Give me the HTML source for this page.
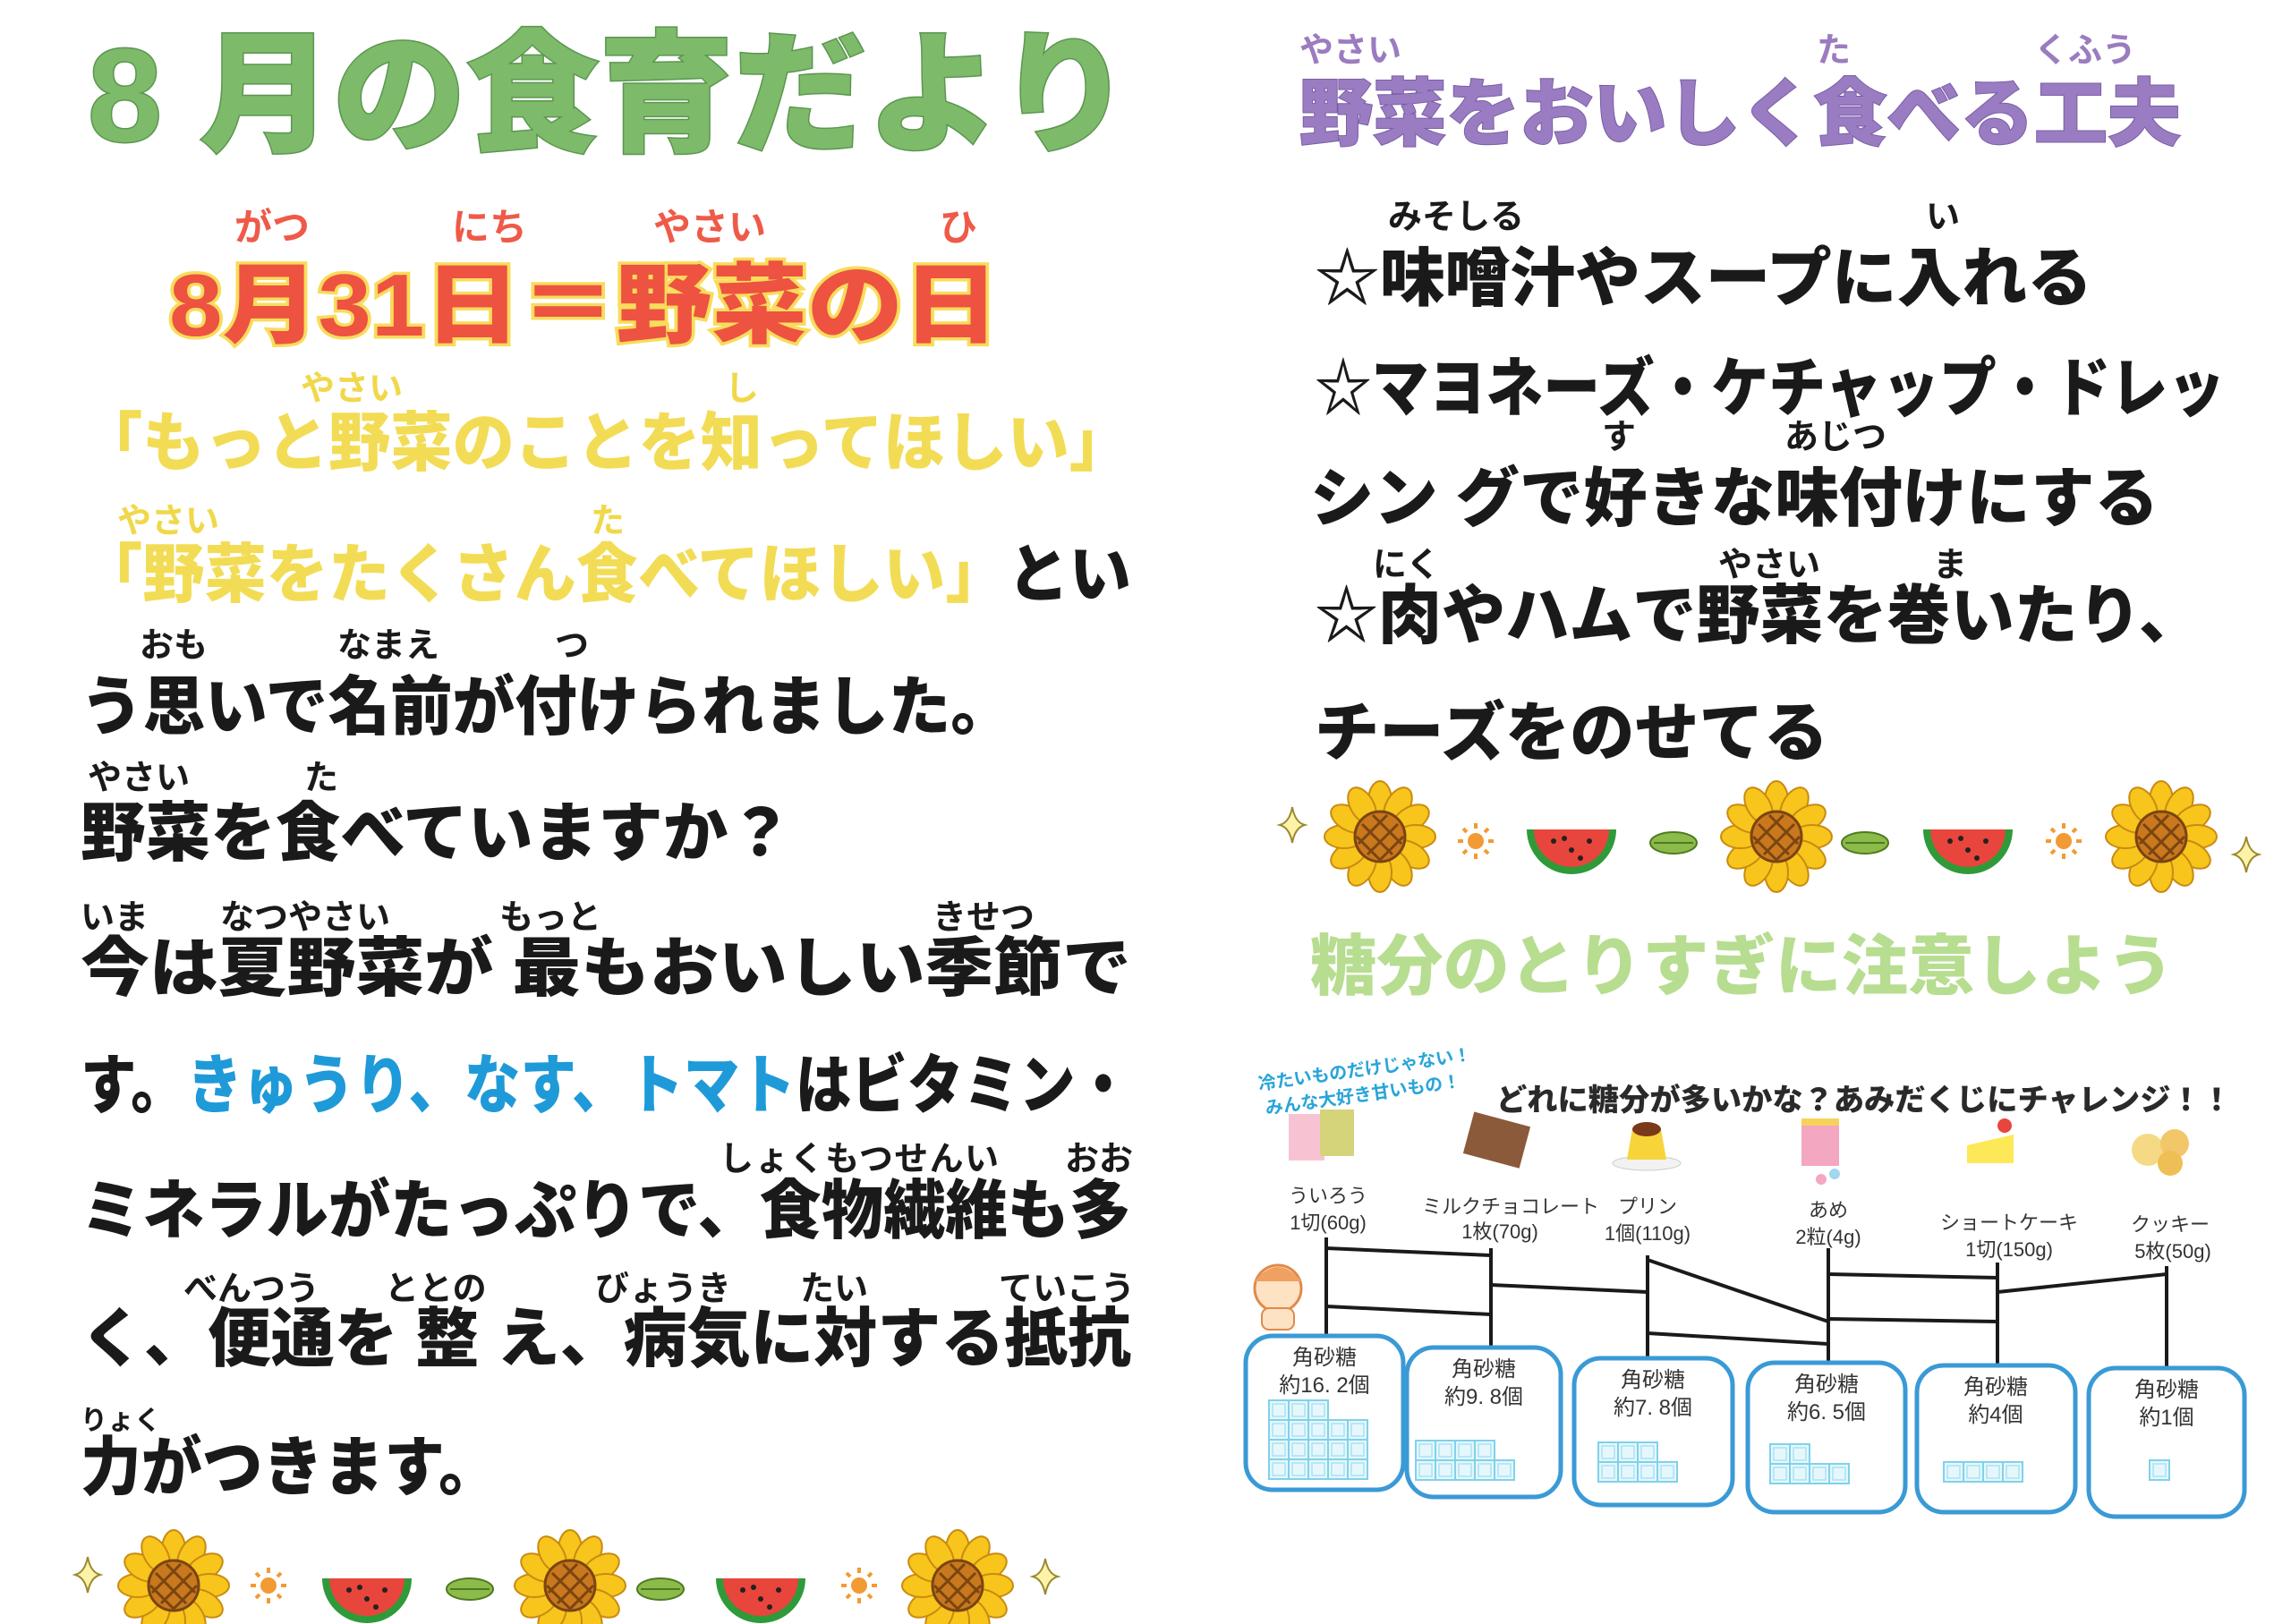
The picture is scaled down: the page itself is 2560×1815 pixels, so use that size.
<!DOCTYPE html>
<html><head><meta charset="utf-8"><style>
html,body{margin:0;padding:0;background:#fff;}
svg{display:block;}
text{font-family:"Liberation Sans","Noto Sans CJK JP",sans-serif;}
.b{font-weight:900;fill:#1a1a1a;}
.r{font-weight:700;font-size:38px;fill:#1a1a1a;}
</style></head><body>
<svg width="2560" height="1815" viewBox="0 0 2560 1815" xmlns="http://www.w3.org/2000/svg">
<defs>
<g id="sun">
<g fill="#f7c51c" stroke="#c98a10" stroke-width="2">
<ellipse cx="0" cy="-40" rx="13" ry="22"/><ellipse cx="0" cy="-40" rx="13" ry="22" transform="rotate(30)"/><ellipse cx="0" cy="-40" rx="13" ry="22" transform="rotate(60)"/><ellipse cx="0" cy="-40" rx="13" ry="22" transform="rotate(90)"/><ellipse cx="0" cy="-40" rx="13" ry="22" transform="rotate(120)"/><ellipse cx="0" cy="-40" rx="13" ry="22" transform="rotate(150)"/><ellipse cx="0" cy="-40" rx="13" ry="22" transform="rotate(180)"/><ellipse cx="0" cy="-40" rx="13" ry="22" transform="rotate(210)"/><ellipse cx="0" cy="-40" rx="13" ry="22" transform="rotate(240)"/><ellipse cx="0" cy="-40" rx="13" ry="22" transform="rotate(270)"/><ellipse cx="0" cy="-40" rx="13" ry="22" transform="rotate(300)"/><ellipse cx="0" cy="-40" rx="13" ry="22" transform="rotate(330)"/>
</g>
<circle r="28" fill="#c9781e" stroke="#7a4510" stroke-width="3"/>
<path d="M-20-14L14 20M-26 0L0 26M-8-24L24 8M20-14L-14 20M26 0L0 26M8-24L-24 8" stroke="#7a4510" stroke-width="3" fill="none"/>
</g>
<g id="melon">
<path d="M-50-8A50 50 0 0 0 50-8Z" fill="#2f9a3a"/>
<path d="M-42-8A42 42 0 0 0 42-8Z" fill="#e8453c"/>
<g fill="#222"><circle cx="-20" cy="5" r="3"/><circle cx="0" cy="15" r="3"/><circle cx="20" cy="5" r="3"/><circle cx="-8" cy="2" r="3"/><circle cx="10" cy="24" r="3"/></g>
</g>
<g id="flw"><circle r="9" fill="#f29a33"/><g stroke="#f29a33" stroke-width="4"><path d="M0-14V-20M0 14V20M-14 0H-20M14 0H20M-10-10L-14-14M10 10L14 14M10-10L14-14M-10 10L-14 14"/></g></g>
<g id="leaf"><ellipse rx="26" ry="12" fill="#8dbb4a" stroke="#4e7a22" stroke-width="2"/><path d="M-22 0H22" stroke="#4e7a22" stroke-width="2"/></g>
<g id="spk"><path d="M0-20Q3-3 14 0Q3 3 0 20Q-3 3-14 0Q-3-3 0-20Z" fill="#fdf3a8" stroke="#9a8a30" stroke-width="2"/></g>
<g id="cube"><rect width="22" height="22" fill="#e6f7fc" stroke="#7fd2ea" stroke-width="2"/><rect x="4" y="4" width="14" height="14" fill="none" stroke="#a9e3f2" stroke-width="1.5"/></g>
</defs>

<!-- LEFT -->
<text x="98" y="107" dominant-baseline="central" font-size="148" font-weight="900" fill="#7dbb6a" stroke="#5b9650" stroke-width="3" paint-order="stroke" textLength="1166" lengthAdjust="spacingAndGlyphs">8 月の食育だより</text>

<g font-size="42" font-weight="700" fill="#ef5a48">
<text x="262" y="254" dominant-baseline="central">がつ</text>
<text x="505" y="254" dominant-baseline="central">にち</text>
<text x="730" y="254" dominant-baseline="central">やさい</text>
<text x="1050" y="254" dominant-baseline="central">ひ</text>
</g>
<text x="189" y="341" dominant-baseline="central" font-size="98" font-weight="900" fill="#ee5240" stroke="#f8dc5c" stroke-width="7" paint-order="stroke" textLength="927" lengthAdjust="spacingAndGlyphs">8月31日＝野菜の日</text>

<g class="r" fill="#f0d84a" style="fill:#f0d84a">
<text x="336" y="435" dominant-baseline="central">やさい</text>
<text x="810" y="435" dominant-baseline="central">し</text>
<text x="131" y="583" dominant-baseline="central">やさい</text>
<text x="660" y="583" dominant-baseline="central">た</text>
</g>
<text x="90" y="496" dominant-baseline="central" font-size="72" font-weight="900" fill="#f3dc55" textLength="1174" lengthAdjust="spacingAndGlyphs">「もっと野菜のことを知ってほしい」</text>
<text x="90" y="643" dominant-baseline="central" font-size="72" font-weight="900" textLength="1174" lengthAdjust="spacingAndGlyphs"><tspan fill="#f3dc55">「野菜をたくさん食べてほしい」</tspan><tspan fill="#1a1a1a">とい</tspan></text>

<g class="r">
<text x="156" y="722" dominant-baseline="central">おも</text>
<text x="377" y="722" dominant-baseline="central">なまえ</text>
<text x="620" y="722" dominant-baseline="central">つ</text>
<text x="98" y="870" dominant-baseline="central">やさい</text>
<text x="340" y="870" dominant-baseline="central">た</text>
<text x="90" y="1026" dominant-baseline="central">いま</text>
<text x="246" y="1026" dominant-baseline="central">なつやさい</text>
<text x="558" y="1026" dominant-baseline="central">もっと</text>
<text x="1042" y="1026" dominant-baseline="central">きせつ</text>
<text x="804" y="1296" dominant-baseline="central" textLength="312">しょくもつせんい</text>
<text x="1190" y="1296" dominant-baseline="central">おお</text>
<text x="205" y="1441" dominant-baseline="central">べんつう</text>
<text x="430" y="1441" dominant-baseline="central">ととの</text>
<text x="665" y="1441" dominant-baseline="central">びょうき</text>
<text x="894" y="1441" dominant-baseline="central">たい</text>
<text x="1116" y="1441" dominant-baseline="central">ていこう</text>
<text x="90" y="1588" dominant-baseline="central" font-size="30">りょく</text>
</g>
<g class="b" font-size="72">
<text x="90" y="791" dominant-baseline="central" textLength="1042" lengthAdjust="spacingAndGlyphs">う思いで名前が付けられました。</text>
<text x="90" y="932" dominant-baseline="central" textLength="796" lengthAdjust="spacingAndGlyphs">野菜を食べていますか？</text>
<text x="90" y="1083" dominant-baseline="central" textLength="1174" lengthAdjust="spacingAndGlyphs">今は夏野菜が 最もおいしい季節で</text>
<text x="90" y="1214" dominant-baseline="central" textLength="1174" lengthAdjust="spacingAndGlyphs">す。<tspan fill="#1f9ad8">きゅうり、なす、トマト</tspan>はビタミン・</text>
<text x="90" y="1354" dominant-baseline="central" textLength="1174" lengthAdjust="spacingAndGlyphs">ミネラルがたっぷりで、食物繊維も多</text>
<text x="90" y="1497" dominant-baseline="central" textLength="1174" lengthAdjust="spacingAndGlyphs">く、便通を 整 え、病気に対する抵抗</text>
<text x="90" y="1641" dominant-baseline="central" textLength="468" lengthAdjust="spacingAndGlyphs">力がつきます。</text>
</g>

<!-- left decorations -->
<use href="#spk" x="98" y="1760"/>
<use href="#sun" x="194" y="1772"/>
<use href="#flw" x="300" y="1772"/>
<use href="#melon" x="410" y="1772"/>
<use href="#leaf" x="525" y="1776"/>
<use href="#sun" x="637" y="1772"/>
<use href="#leaf" x="738" y="1776"/>
<use href="#melon" x="850" y="1772"/>
<use href="#flw" x="960" y="1772"/>
<use href="#sun" x="1070" y="1772"/>
<use href="#spk" x="1168" y="1762"/>

<!-- RIGHT -->
<g font-size="38" font-weight="700" fill="#9b7cc0">
<text x="1452" y="57" dominant-baseline="central">やさい</text>
<text x="2030" y="57" dominant-baseline="central">た</text>
<text x="2273" y="57" dominant-baseline="central">くふう</text>
</g>
<text x="1452" y="128" dominant-baseline="central" font-size="82" font-weight="900" fill="#9a7cc2" stroke="#7a5ea6" stroke-width="2" paint-order="stroke" textLength="985" lengthAdjust="spacingAndGlyphs">野菜をおいしく食べる工夫</text>

<g class="r">
<text x="1551" y="243" dominant-baseline="central">みそしる</text>
<text x="2152" y="243" dominant-baseline="central">い</text>
<text x="1790" y="489" dominant-baseline="central">す</text>
<text x="1994" y="489" dominant-baseline="central">あじつ</text>
<text x="1534" y="632" dominant-baseline="central">にく</text>
<text x="1920" y="632" dominant-baseline="central">やさい</text>
<text x="2160" y="632" dominant-baseline="central">ま</text>
</g>
<g class="b" font-size="72">
<text x="1469" y="312" dominant-baseline="central" textLength="869" lengthAdjust="spacingAndGlyphs">☆味噌汁やスープに入れる</text>
<text x="1469" y="435" dominant-baseline="central" textLength="1017" lengthAdjust="spacingAndGlyphs">☆マヨネーズ・ケチャップ・ドレッ</text>
<text x="1464" y="558" dominant-baseline="central" textLength="948" lengthAdjust="spacingAndGlyphs">シン グで好きな味付けにする</text>
<text x="1469" y="689" dominant-baseline="central" textLength="992" lengthAdjust="spacingAndGlyphs">☆肉やハムで野菜を巻いたり、</text>
<text x="1469" y="820" dominant-baseline="central" textLength="574" lengthAdjust="spacingAndGlyphs">チーズをのせてる</text>
</g>

<!-- right decorations -->
<use href="#spk" x="1444" y="922"/>
<use href="#sun" x="1542" y="935"/>
<use href="#flw" x="1649" y="940"/>
<use href="#melon" x="1756" y="935"/>
<use href="#leaf" x="1870" y="942"/>
<use href="#sun" x="1985" y="935"/>
<use href="#leaf" x="2084" y="942"/>
<use href="#melon" x="2199" y="935"/>
<use href="#flw" x="2306" y="940"/>
<use href="#sun" x="2415" y="935"/>
<use href="#spk" x="2510" y="955"/>

<text x="1464" y="1080" dominant-baseline="central" font-size="74" font-weight="900" fill="#b7dd90" textLength="965" lengthAdjust="spacingAndGlyphs">糖分のとりすぎに注意しよう</text>

<!-- amidakuji -->
<g font-size="20" font-weight="700" fill="#2aa5d8" transform="rotate(-8 1410 1225)">
<text x="1408" y="1218">冷たいものだけじゃない！</text>
<text x="1412" y="1246">みんな大好き甘いもの！</text>
</g>
<text x="1672" y="1230" dominant-baseline="central" font-size="34" font-weight="900" fill="#2a2a2a" textLength="822" lengthAdjust="spacingAndGlyphs">どれに糖分が多いかな？あみだくじにチャレンジ！！</text>

<!-- icons -->
<rect x="1440" y="1245" width="40" height="52" fill="#f7c3d2"/><rect x="1475" y="1240" width="38" height="52" fill="#d6d47a"/>
<rect x="1640" y="1250" width="65" height="48" fill="#8b5a3a" transform="rotate(15 1672 1274)"/>
<ellipse cx="1840" cy="1300" rx="38" ry="8" fill="#f2f2f2" stroke="#ccc"/><path d="M1818 1296L1824 1262H1856L1862 1296Z" fill="#f7d43a"/><ellipse cx="1840" cy="1262" rx="16" ry="8" fill="#7a3a1a"/>
<rect x="2013" y="1255" width="42" height="48" fill="#f4a7c0"/><rect x="2013" y="1250" width="42" height="8" fill="#f7d25a"/><circle cx="2050" cy="1312" r="6" fill="#a0d8f0"/><circle cx="2035" cy="1318" r="6" fill="#f4a7c0"/>
<path d="M2198 1280L2250 1268V1300H2198Z" fill="#fde858"/><circle cx="2240" cy="1258" r="8" fill="#e8453c"/>
<circle cx="2400" cy="1285" r="18" fill="#f6d985"/><circle cx="2430" cy="1278" r="16" fill="#f1c76a"/><circle cx="2425" cy="1300" r="14" fill="#eebf55"/>

<g font-size="22" fill="#333" text-anchor="middle">
<text x="1484" y="1344">ういろう</text><text x="1484" y="1374">1切(60g)</text>
<text x="1688" y="1356">ミルクチョコレート</text><text x="1676" y="1384">1枚(70g)</text>
<text x="1841" y="1356">プリン</text><text x="1841" y="1386">1個(110g)</text>
<text x="2043" y="1360">あめ</text><text x="2043" y="1390">2粒(4g)</text>
<text x="2245" y="1374">ショートケーキ</text><text x="2245" y="1404">1切(150g)</text>
<text x="2425" y="1376">クッキー</text><text x="2428" y="1406">5枚(50g)</text>
</g>

<g stroke="#1a1a1a" stroke-width="4" fill="none">
<path d="M1482 1383V1497M1666 1395V1506M1841 1403V1518M2043 1395V1523M2232 1411V1526M2421 1415V1529"/>
<path d="M1482 1395L1666 1403M1482 1460L1666 1469M1666 1436L1841 1444M1841 1408L2043 1477M1841 1490L2043 1502M2043 1424L2232 1428M2043 1474L2232 1477M2232 1444L2421 1424"/>
</g>
<!-- girl -->
<circle cx="1428" cy="1440" r="26" fill="#fde2c4" stroke="#e08a4a" stroke-width="3"/>
<path d="M1402 1432Q1428 1400 1454 1432" fill="#f0a060"/>
<rect x="1410" y="1462" width="36" height="24" rx="8" fill="#fde2c4" stroke="#e08a4a" stroke-width="2"/>

<g fill="#fff" stroke="#3a9ad6" stroke-width="5">
<rect x="1392" y="1493" width="176" height="172" rx="30"/>
<rect x="1572" y="1506" width="172" height="167" rx="30"/>
<rect x="1759" y="1518" width="177" height="164" rx="30"/>
<rect x="1953" y="1523" width="176" height="167" rx="30"/>
<rect x="2142" y="1526" width="177" height="164" rx="30"/>
<rect x="2334" y="1529" width="174" height="166" rx="30"/>
</g>
<g font-size="24" fill="#333" text-anchor="middle">
<text x="1480" y="1525">角砂糖</text><text x="1480" y="1556">約16. 2個</text>
<text x="1658" y="1538">角砂糖</text><text x="1658" y="1569">約9. 8個</text>
<text x="1847" y="1550">角砂糖</text><text x="1847" y="1581">約7. 8個</text>
<text x="2041" y="1555">角砂糖</text><text x="2041" y="1586">約6. 5個</text>
<text x="2230" y="1558">角砂糖</text><text x="2230" y="1589">約4個</text>
<text x="2421" y="1561">角砂糖</text><text x="2421" y="1592">約1個</text>
</g>
<!-- cubes -->
<g>
<use href="#cube" x="1418" y="1565"/><use href="#cube" x="1440" y="1565"/><use href="#cube" x="1462" y="1565"/>
<use href="#cube" x="1418" y="1587"/><use href="#cube" x="1440" y="1587"/><use href="#cube" x="1462" y="1587"/><use href="#cube" x="1484" y="1587"/><use href="#cube" x="1506" y="1587"/>
<use href="#cube" x="1418" y="1609"/><use href="#cube" x="1440" y="1609"/><use href="#cube" x="1462" y="1609"/><use href="#cube" x="1484" y="1609"/><use href="#cube" x="1506" y="1609"/>
<use href="#cube" x="1418" y="1631"/><use href="#cube" x="1440" y="1631"/><use href="#cube" x="1462" y="1631"/><use href="#cube" x="1484" y="1631"/><use href="#cube" x="1506" y="1631"/>

<use href="#cube" x="1582" y="1610"/><use href="#cube" x="1604" y="1610"/><use href="#cube" x="1626" y="1610"/><use href="#cube" x="1648" y="1610"/>
<use href="#cube" x="1582" y="1632"/><use href="#cube" x="1604" y="1632"/><use href="#cube" x="1626" y="1632"/><use href="#cube" x="1648" y="1632"/><use href="#cube" x="1670" y="1632"/>

<use href="#cube" x="1786" y="1612"/><use href="#cube" x="1808" y="1612"/><use href="#cube" x="1830" y="1612"/>
<use href="#cube" x="1786" y="1634"/><use href="#cube" x="1808" y="1634"/><use href="#cube" x="1830" y="1634"/><use href="#cube" x="1852" y="1634"/>

<use href="#cube" x="1978" y="1614"/><use href="#cube" x="2000" y="1614"/>
<use href="#cube" x="1978" y="1636"/><use href="#cube" x="2000" y="1636"/><use href="#cube" x="2022" y="1636"/><use href="#cube" x="2044" y="1636"/>

<use href="#cube" x="2172" y="1634"/><use href="#cube" x="2194" y="1634"/><use href="#cube" x="2216" y="1634"/><use href="#cube" x="2238" y="1634"/>

<use href="#cube" x="2402" y="1632"/>
</g>
</svg>
</body></html>
